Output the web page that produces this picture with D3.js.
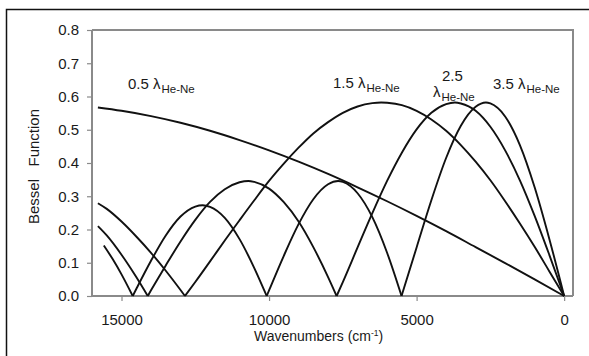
<!DOCTYPE html>
<html>
<head>
<meta charset="utf-8">
<script src="https://cdn.jsdelivr.net/npm/d3@7"></script>
<style>
  html, body { margin: 0; padding: 0; background: #fff; }
  svg { display: block; }
  text { font-family: Arial, "Liberation Sans", sans-serif; fill: #1a1a1a; }
</style>
</head>
<body>
<svg id="chart" width="589" height="356"></svg>
<script>
// |J1| response curves for four retardations, in units of the He-Ne wavelength
const wn05 = [0, 1000, 2000, 3000, 4000, 5000, 6000, 7000, 8000, 9000, 10000, 11000, 12000, 13000, 14000, 15000, 15800];
const val05 = [0, 0.050, 0.099, 0.147, 0.195, 0.241, 0.285, 0.327, 0.367, 0.404, 0.438, 0.469, 0.497, 0.521, 0.541, 0.557, 0.567];

const wn15 = [0, 500, 1000, 1500, 2000, 2500, 3000, 3500, 4000, 4500, 5000, 5500, 6000, 6200, 6500, 7000, 7500, 8000, 8500, 9000, 9500, 10000, 10500, 11000, 11500, 12000, 12500, 12850, 13000, 13500, 14000, 14500, 15000, 15500, 15800];
const val15 = [0, 0.074, 0.148, 0.218, 0.285, 0.348, 0.404, 0.454, 0.497, 0.531, 0.557, 0.574, 0.581, 0.582, 0.580, 0.570, 0.551, 0.523, 0.489, 0.446, 0.398, 0.346, 0.288, 0.228, 0.167, 0.104, 0.042, 0, 0.018, 0.076, 0.130, 0.179, 0.224, 0.262, 0.279];

const wn25 = [0, 500, 1000, 1500, 2000, 2500, 3000, 3500, 3700, 4000, 4500, 5000, 5500, 6000, 6500, 7000, 7500, 7710, 8000, 8500, 9000, 9500, 10000, 10500, 10700, 11000, 11500, 12000, 12500, 13000, 13500, 14000, 14110, 14500, 15000, 15500, 15800];
const val25 = [0, 0.123, 0.241, 0.348, 0.438, 0.509, 0.557, 0.579, 0.582, 0.577, 0.551, 0.501, 0.431, 0.346, 0.249, 0.146, 0.042, 0, 0.057, 0.147, 0.224, 0.282, 0.323, 0.343, 0.346, 0.342, 0.321, 0.283, 0.229, 0.164, 0.092, 0.017, 0, 0.057, 0.124, 0.182, 0.210];

const wn35 = [0, 500, 1000, 1500, 2000, 2500, 2650, 3000, 3500, 4000, 4500, 5000, 5510, 6000, 6500, 7000, 7500, 7660, 8000, 8500, 9000, 9500, 10000, 10080, 10500, 11000, 11500, 12000, 12250, 12500, 13000, 13500, 14000, 14500, 14620, 15000, 15300, 15600];
const val35 = [0, 0.171, 0.327, 0.454, 0.540, 0.579, 0.582, 0.569, 0.512, 0.415, 0.288, 0.146, 0, 0.130, 0.237, 0.309, 0.343, 0.346, 0.336, 0.291, 0.216, 0.121, 0.017, 0, 0.084, 0.171, 0.235, 0.268, 0.273, 0.269, 0.239, 0.182, 0.106, 0.021, 0, 0.065, 0.111, 0.152];

const xTicks = [15000, 10000, 5000, 0];
const yTicks = [0, 0.1, 0.2, 0.3, 0.4, 0.5, 0.6, 0.7, 0.8];

const seriesList = [
  { wn: wn05, val: val05 },
  { wn: wn15, val: val15 },
  { wn: wn25, val: val25 },
  { wn: wn35, val: val35 }
];

const curveLabels = [
  { lines: [{ main: "0.5 λ", sub: "He-Ne", x: 128, y: 89 }] },
  { lines: [{ main: "1.5 λ", sub: "He-Ne", x: 333, y: 88 }] },
  { lines: [{ main: "2.5", sub: "", x: 442, y: 81 }, { main: "λ", sub: "He-Ne", x: 433, y: 97 }] },
  { lines: [{ main: "3.5 λ", sub: "He-Ne", x: 493, y: 89 }] }
];

const svg = d3.select("#chart");
const plotL = 92, plotR = 573, plotT = 30, plotB = 296;
const axisGray = "#8a8a8a";

// outer frame
svg.append("rect")
  .attr("x", 6.5).attr("y", 9.5)
  .attr("width", 640).attr("height", 400)
  .attr("fill", "none").attr("stroke", "#111").attr("stroke-width", 1.5);

const x = d3.scaleLinear().domain([16000, -300]).range([plotL, plotR]);
const y = d3.scaleLinear().domain([0, 0.8]).range([plotB, plotT]);

// plot area border (top and right)
svg.append("path")
  .attr("d", `M${plotL},${plotT}H${plotR}V${plotB}`)
  .attr("fill", "none").attr("stroke", axisGray).attr("stroke-width", 2);

// y axis
const yAxis = svg.append("g")
  .attr("transform", `translate(${plotL},0)`)
  .call(d3.axisLeft(y).tickValues(yTicks).tickFormat(d3.format(".1f")).tickSize(5).tickPadding(8));
// x axis
const xAxis = svg.append("g")
  .attr("transform", `translate(0,${plotB})`)
  .call(d3.axisBottom(x).tickValues(xTicks).tickFormat(d3.format("d")).tickSize(5).tickPadding(13));

[yAxis, xAxis].forEach(g => {
  g.select(".domain").attr("stroke", axisGray).attr("stroke-width", 2);
  g.selectAll(".tick line").attr("stroke", axisGray).attr("stroke-width", 1.2);
  g.selectAll(".tick text").attr("font-size", 15).attr("fill", "#1a1a1a")
    .style("font-family", "Arial, 'Liberation Sans', sans-serif");
});
xAxis.select(".domain").attr("d", `M${plotL},0H${plotR}`);
yAxis.select(".domain").attr("d", `M0,${plotT}V${plotB}`);

// curves: each series is split into arches at its zero points
const line = d3.line()
  .x(d => x(d[0]))
  .y(d => y(d[1]))
  .curve(d3.curveMonotoneX);

const curves = svg.append("g");
seriesList.forEach(s => {
  const pts = s.wn.map((w, i) => [w, s.val[i]]).sort((a, b) => x(a[0]) - x(b[0]));
  const arches = [];
  let cur = [];
  pts.forEach(p => {
    cur.push(p);
    if (p[1] === 0 && cur.length > 1) {
      arches.push(cur);
      cur = [p];
    }
  });
  if (cur.length > 1) arches.push(cur);
  arches.forEach(a => {
    curves.append("path")
      .attr("d", line(a))
      .attr("fill", "none")
      .attr("stroke", "#111")
      .attr("stroke-width", 1.9)
      .attr("stroke-linejoin", "round");
  });
});

// curve labels
curveLabels.forEach(lbl => {
  lbl.lines.forEach(l => {
    const t = svg.append("text")
      .attr("x", l.x).attr("y", l.y)
      .attr("font-size", 15);
    t.append("tspan").text(l.main);
    if (l.sub) {
      t.append("tspan").attr("dx", 1).attr("dy", 3.5).attr("font-size", 11.5).text(l.sub);
    }
  });
});

// axis titles
svg.append("text")
  .attr("transform", `translate(39,166.5) rotate(-90)`)
  .attr("text-anchor", "middle")
  .attr("font-size", 15)
  .attr("xml:space", "preserve")
  .text("Bessel   Function");

const xt = svg.append("text")
  .attr("x", 254).attr("y", 341)
  .attr("font-size", 14);
xt.append("tspan").text("Wavenumbers (cm");
xt.append("tspan").attr("dy", -5).attr("font-size", 8.5).text("-1");
xt.append("tspan").attr("dy", 5).text(")");
</script>
</body>
</html>
